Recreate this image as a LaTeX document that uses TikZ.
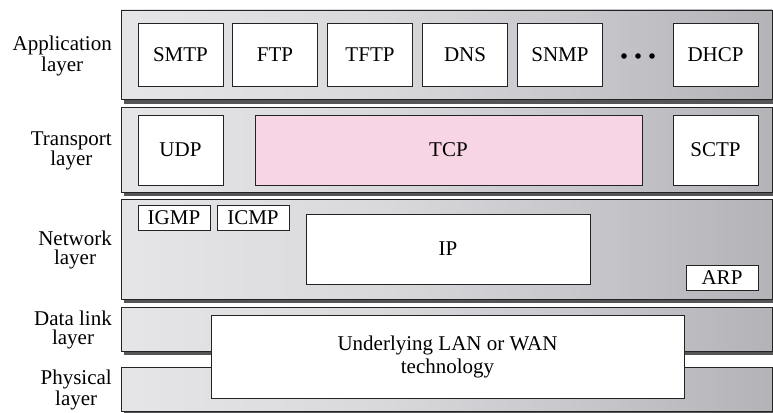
\documentclass[tikz,border=0pt]{standalone}
\usepackage{fontspec}
\setmainfont{Liberation Serif}
\pgfdeclarehorizontalshading{bandshade}{100bp}{rgb(0bp)=(0.91,0.91,0.92); rgb(25bp)=(0.90,0.90,0.91); rgb(45bp)=(0.85,0.85,0.86); rgb(60bp)=(0.78,0.78,0.80); rgb(75bp)=(0.70,0.70,0.72); rgb(87bp)=(0.60,0.60,0.62); rgb(95bp)=(0.45,0.45,0.47); rgb(100bp)=(0.28,0.28,0.30)}
\definecolor{shadowc}{RGB}{85,85,88}
\definecolor{edgec}{RGB}{35,35,38}
\definecolor{tcppink}{RGB}{248,213,228}
\begin{document}
\begin{tikzpicture}[x=1pt,y=-1pt,
  txt/.style={font=\fontsize{21}{19}\selectfont},
  lbl/.style={txt, align=center, anchor=east, inner sep=0pt},
  proto/.style={txt, draw=edgec, line width=0.9pt, fill=white, inner sep=0pt, minimum height=63pt, minimum width=85pt},
  small/.style={proto, minimum height=25pt, minimum width=72pt},
  bandshadow/.style={fill=shadowc},
  bandbox/.style={shading=bandshade, draw=edgec, line width=0.9pt}]
\useasboundingbox (0,0) rectangle (773,412);
% bands: shadows
\fill[bandshadow] (124,14) rectangle (776,104);
\fill[bandshadow] (124,111) rectangle (776,196);
\fill[bandshadow] (124,203) rectangle (776,303);
\fill[bandshadow] (124,311) rectangle (776,355);
\fill[bandshadow] (124,371) rectangle (776,415);
% bands
\shade[bandbox] (121,10) rectangle (772,99);
\shade[bandbox] (121,107) rectangle (772,192);
\shade[bandbox] (121,199) rectangle (772,299);
\shade[bandbox] (121,307) rectangle (772,351);
\shade[bandbox] (121,367) rectangle (772,411);
% layer labels
\node[lbl] (lapp) at (112,56) {Application\\layer};
\node[lbl] (ltra) at (112,151) {Transport\\layer};
\node[lbl] (lnet) at (112,250) {Network\\layer};
\node[lbl] (ldl) at (112,330) {Data link\\layer};
\node[lbl] (lphy) at (112,390) {Physical\\layer};
% application protocols
\node[proto] (smtp) at (180.5,54.5) {SMTP};
\node[proto] (ftp) at (275,54.5) {FTP};
\node[proto] (tftp) at (370,54.5) {TFTP};
\node[proto] (dns) at (465,54.5) {DNS};
\node[proto] (snmp) at (560,54.5) {SNMP};
\node[proto] (dhcp) at (715.5,54.5) {DHCP};
\fill[black] (624,56) circle (2.8pt) (638,56) circle (2.8pt) (652,56) circle (2.8pt);
% transport
\node[proto, minimum height=70pt] (udp) at (180.5,150) {UDP};
\node[proto, minimum height=70pt, minimum width=387pt, fill=tcppink] (tcp) at (448.5,150) {TCP};
\node[proto, minimum height=70pt] (sctp) at (715.5,150) {SCTP};
% network
\node[small] (igmp) at (174,217.5) {IGMP};
\node[small] (icmp) at (253,217.5) {ICMP};
\node[proto, minimum height=70pt, minimum width=284pt] (ip) at (448,249) {IP};
\node[small] (arp) at (722,277.5) {ARP};
% underlying
\node[proto, minimum height=83pt, minimum width=473pt, align=center, font=\fontsize{21}{23}\selectfont] (lan) at (447.5,356.5) {Underlying LAN or WAN\\technology};
\end{tikzpicture}
\end{document}
